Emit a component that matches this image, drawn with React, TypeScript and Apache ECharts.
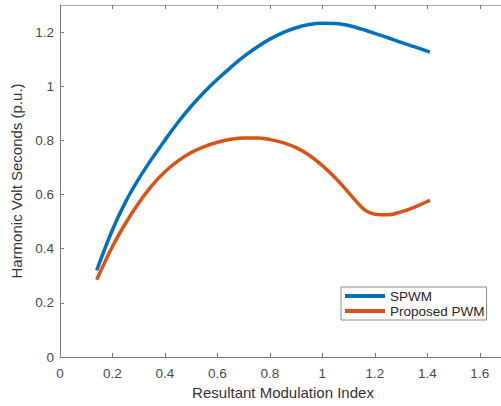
import React, { useEffect, useRef } from "react";
import * as echarts from "echarts";

// Resultant modulation index (x) shared by both curves
const modIndex = [
  0.14, 0.2, 0.25, 0.3, 0.35, 0.4, 0.45, 0.5, 0.55, 0.6, 0.65, 0.7, 0.75, 0.8,
  0.85, 0.9, 0.95, 1.0, 1.05, 1.1, 1.15, 1.17, 1.2, 1.25, 1.3, 1.35, 1.41,
];

// Harmonic volt seconds (p.u.)
const spwm = [
  0.32, 0.47, 0.573, 0.658, 0.732, 0.801, 0.867, 0.926, 0.979, 1.026, 1.069,
  1.109, 1.144, 1.174, 1.198, 1.216, 1.228, 1.233, 1.232, 1.224, 1.211, 1.205,
  1.195, 1.179, 1.162, 1.146, 1.126,
];

const proposedPwm = [
  0.285, 0.408, 0.494, 0.569, 0.633, 0.684, 0.724, 0.755, 0.777, 0.793, 0.804,
  0.809, 0.809, 0.803, 0.792, 0.773, 0.745, 0.707, 0.661, 0.607, 0.553, 0.538,
  0.527, 0.525, 0.536, 0.553, 0.579,
];

const seriesNames = ["SPWM", "Proposed PWM"];
const seriesColors = ["#0072BD", "#D95319"];

const FONT = "'Liberation Sans', Arial, Helvetica, sans-serif";
const AXIS_COLOR = "#7a7a7a";

export default function App() {
  const ref = useRef<HTMLDivElement>(null);

  useEffect(() => {
    if (!ref.current) return;
    const chart = echarts.init(ref.current, undefined, { renderer: "svg" });

    const toPairs = (ys: number[]) => modIndex.map((x, i) => [x, ys[i]]);

    chart.setOption({
      animation: false,
      backgroundColor: "#ffffff",
      textStyle: { fontFamily: FONT },
      grid: { left: 60, right: 14, top: 5, bottom: 49, containLabel: false },
      legend: {
        orient: "vertical",
        left: 341,
        top: 287,
        data: seriesNames,
        icon: "rect",
        itemWidth: 40,
        itemHeight: 4,
        itemGap: 1,
        padding: [2, 2, 2, 4],
        borderColor: "#8c8c8c",
        borderWidth: 1,
        backgroundColor: "#ffffff",
        textStyle: { fontFamily: FONT, fontSize: 13.5, color: "#262626" },
      },
      xAxis: [
        {
          type: "value",
          min: 0,
          max: 1.7,
          interval: 0.2,
          name: "Resultant Modulation Index",
          nameLocation: "middle",
          nameGap: 28,
          nameTextStyle: { fontFamily: FONT, fontSize: 15, color: "#333333" },
          axisLine: { show: true, lineStyle: { color: AXIS_COLOR, width: 1 } },
          axisTick: { show: true, inside: true, length: 4, lineStyle: { color: AXIS_COLOR } },
          axisLabel: {
            margin: 9,
            fontFamily: FONT,
            fontSize: 13.5,
            color: "#4a4a4a",
            showMaxLabel: false,
          },
          splitLine: { show: false },
        },
        {
          type: "value",
          position: "top",
          min: 0,
          max: 1.7,
          interval: 0.2,
          axisLine: { show: true, lineStyle: { color: "#a8a8a8", width: 1 } },
          axisTick: { show: true, inside: true, length: 4, lineStyle: { color: AXIS_COLOR } },
          axisLabel: { show: false },
          splitLine: { show: false },
        },
      ],
      yAxis: {
        type: "value",
        min: 0,
        max: 1.3,
        interval: 0.2,
        name: "Harmonic Volt Seconds (p.u.)",
        nameLocation: "middle",
        nameGap: 28,
        nameTextStyle: { fontFamily: FONT, fontSize: 15, color: "#333333" },
        axisLine: { show: true, lineStyle: { color: AXIS_COLOR, width: 1 } },
        axisTick: { show: true, inside: true, length: 4, lineStyle: { color: AXIS_COLOR } },
        axisLabel: {
          margin: 6,
          fontFamily: FONT,
          fontSize: 13.5,
          color: "#4a4a4a",
          showMaxLabel: false,
        },
        splitLine: { show: false },
      },
      series: [
        {
          name: seriesNames[0],
          type: "line",
          data: toPairs(spwm),
          smooth: 0.4,
          showSymbol: false,
          symbol: "none",
          color: seriesColors[0],
          lineStyle: { width: 3.5, color: seriesColors[0] },
        },
        {
          name: seriesNames[1],
          type: "line",
          data: toPairs(proposedPwm),
          smooth: 0.4,
          showSymbol: false,
          symbol: "none",
          color: seriesColors[1],
          lineStyle: { width: 3.5, color: seriesColors[1] },
        },
      ],
    });

    return () => chart.dispose();
  }, []);

  return (
    <div
      style={{
        position: "fixed",
        left: 0,
        top: 0,
        width: 501,
        height: 406,
        overflow: "hidden",
        background: "#ffffff",
      }}
    >
      <div ref={ref} style={{ width: 520, height: 406 }} />
    </div>
  );
}
